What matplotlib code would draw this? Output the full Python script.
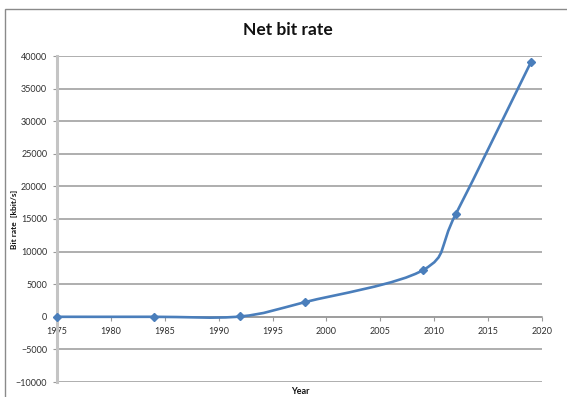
import matplotlib
matplotlib.use("Agg")
import matplotlib.pyplot as plt
from matplotlib.patches import Rectangle, PathPatch
from matplotlib.path import Path
import numpy as np

years = [1975, 1984, 1992, 1998, 2009, 2012, 2019]
rates = [0, 0, 50, 2250, 7200, 15750, 39150]
x_ticks = list(range(1975, 2021, 5))
y_ticks = list(range(-10000, 40001, 5000))

LINE_BLUE = '#4a7ebb'
FONT = ['Lato', 'DejaVu Sans']


def smooth_path(xs, ys):
    # Catmull-Rom style bezier through every point, like a spreadsheet "smoothed line"
    pts = np.column_stack([xs, ys]).astype(float)
    n = len(pts)
    verts = [pts[0]]
    codes = [Path.MOVETO]
    for i in range(n - 1):
        p0 = pts[i - 1] if i > 0 else pts[i]
        p1 = pts[i]
        p2 = pts[i + 1]
        p3 = pts[i + 2] if i + 2 < n else pts[i + 1]
        c1 = p1 + (p2 - p0) / 6.0
        c2 = p2 - (p3 - p1) / 6.0
        verts += [c1, c2, p2]
        codes += [Path.CURVE4] * 3
    return Path(verts, codes)


fig = plt.figure(figsize=(5.67, 3.97), dpi=100)
fig.patch.set_facecolor('white')
fig.add_artist(Rectangle((5 / 567, -0.1), 1.1, 1.1 - 9 / 397, transform=fig.transFigure,
                         fill=False, edgecolor='#8a8a8a', linewidth=1.0))

ax = fig.add_axes([57 / 567, 15 / 397, 485 / 567, 326 / 397])
ax.set_xlim(1975, 2020)
ax.set_ylim(-10000, 40000)
ax.set_xticks(x_ticks)
ax.set_yticks(y_ticks)

ax.grid(axis='y', color='#999999', linewidth=1.1)
ax.set_axisbelow(True)
for side in ['top', 'right']:
    ax.spines[side].set_visible(False)
ax.spines['bottom'].set_position(('data', 0))
ax.spines['bottom'].set_color('#9a9a9a')
ax.spines['bottom'].set_linewidth(1.1)
ax.spines['left'].set_color('#c4c4c4')
ax.spines['left'].set_linewidth(2.2)
ax.tick_params(axis='both', length=3, width=0.8, color='#9a9a9a',
               labelsize=6.5, labelcolor='#303030', pad=4)

for lbl in ax.get_xticklabels() + ax.get_yticklabels():
    lbl.set_family(FONT)

ax.add_patch(PathPatch(smooth_path(years, rates), facecolor='none',
                       edgecolor=LINE_BLUE, linewidth=1.9, zorder=3))
ax.plot(years, rates, linestyle='none', marker='D', markersize=4.5,
        color=LINE_BLUE, zorder=4, clip_on=False)

fig.text(288 / 567, 1 - 30 / 397, 'Net bit rate', ha='center', va='center',
         fontsize=12.5, fontweight='bold', family=FONT, color='#111111')
fig.text(15 / 567, 1 - 219 / 397, 'Bit rate  [kbit/s]', ha='center', va='center',
         rotation=90, fontsize=6, fontweight='bold', family=FONT, color='#111111')
fig.text(300 / 567, 1 - 391 / 397, 'Year', ha='center', va='center',
         fontsize=6.5, fontweight='bold', family=FONT, color='#111111')

fig.savefig('out.png', dpi=100)
